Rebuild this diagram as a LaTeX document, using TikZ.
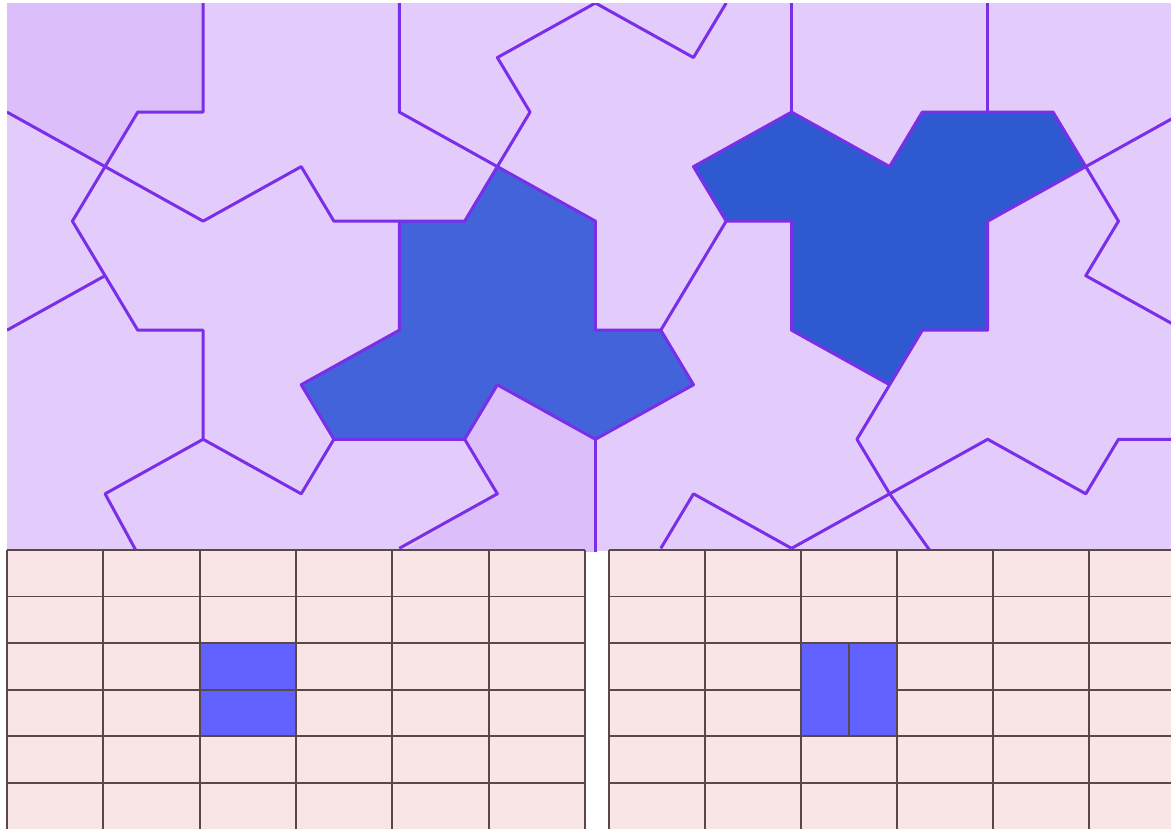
\documentclass[tikz,border=0pt]{standalone}
\usepackage{tikz}
\definecolor{hatlilac}{RGB}{227,203,251}
\definecolor{hatlilacdark}{RGB}{219,190,250}
\definecolor{hatline}{RGB}{122,46,232}
\definecolor{hatblue}{RGB}{66,99,217}
\definecolor{hatbluedark}{RGB}{47,89,209}
\definecolor{gridpink}{RGB}{249,229,230}
\definecolor{gridline}{RGB}{88,72,72}
\definecolor{gridblue}{RGB}{97,97,255}

\begin{document}
\begin{tikzpicture}[x=0.01cm,y=-0.01cm,
  tileedge/.style={hatline,line width=0.85pt,line join=round},
  gridedge/.style={gridline,line width=0.55pt}]
  \useasboundingbox (0,0) rectangle (1171,829);
  % Hat tiling (lattice units)
  \begin{scope}[xshift=0.07cm,yshift=-0.03cm,x=0.3267cm,y=-0.545cm]
    \clip (0,0) rectangle (35.65,10.05);
    \fill[hatlilac] (0,0) rectangle (35.65,10.05);
    % Reflected tiles
    \fill[hatlilacdark] (0,0) -- (6,0) -- (6,2) -- (4,2) -- (3,3) -- (0,2) -- cycle;
    \fill[hatlilacdark] (14,8) -- (15,9) -- (12,10.1) -- (18,10.1) -- (18,8) -- (15,7) -- cycle;
    % Marked hats
    \filldraw[tileedge,fill=hatblue] (15,3) -- (18,4) -- (18,6) -- (20,6) -- (21,7) -- (18,8) -- (15,7)
      -- (14,8) -- (10,8) -- (9,7) -- (12,6) -- (12,4) -- (14,4) -- cycle;
    \filldraw[tileedge,fill=hatbluedark] (21,3) -- (24,2) -- (27,3) -- (28,2) -- (32,2) -- (33,3) -- (30,4)
      -- (30,6) -- (28,6) -- (27,7) -- (24,6) -- (24,4) -- (22,4) -- cycle;
    % Other tile edges
    \draw[tileedge] (6,0) -- (6,2) -- (4,2) -- (3,3) -- (2,4) -- (3,5) -- (4,6) -- (6,6) -- (6,8) -- (9,9) -- (10,8);
    \draw[tileedge] (6,8) -- (3,9) -- (4,10.1);
    \draw[tileedge] (0,2) -- (3,3) -- (6,4) -- (9,3) -- (10,4) -- (12,4);
    \draw[tileedge] (0,6) -- (3,5);
    \draw[tileedge] (12,0) -- (12,2) -- (15,3);
    \draw[tileedge] (15,3) -- (16,2) -- (15,1) -- (18,0) -- (21,1) -- (22,0);
    \draw[tileedge] (22,4) -- (21,5) -- (20,6);
    \draw[tileedge] (24,0) -- (24,2);
    \draw[tileedge] (30,0) -- (30,2);
    \draw[tileedge] (33,3) -- (36,2);
    \draw[tileedge] (33,3) -- (34,4) -- (33,5) -- (36,6);
    \draw[tileedge] (18,8) -- (18,10.1);
    \draw[tileedge] (14,8) -- (15,9) -- (12,10);
    \draw[tileedge] (20,10) -- (21,9) -- (24,10);
    \draw[tileedge] (27,7) -- (26,8) -- (27,9) -- (28.3,10.1);
    \draw[tileedge] (24,10) -- (27,9) -- (30,8) -- (33,9) -- (34,8) -- (36,8);
  \end{scope}
  % Left grid
  \fill[gridpink] (7,550) rectangle (585,829);
  \fill[gridblue] (199.7,643) rectangle (296,736);
  \foreach \i in {0,...,6}
    \draw[gridedge] ({7+96.33*\i},550) -- ({7+96.33*\i},829);
  \foreach \j in {0,...,5}
    \draw[gridedge] (7,{550+46.5*\j}) -- (585,{550+46.5*\j});
  % Right grid
  \fill[gridpink] (609,550) rectangle (1171,829);
  \foreach \i in {0,...,5}
    \draw[gridedge] ({609+96*\i},550) -- ({609+96*\i},829);
  \foreach \j in {0,...,5}
    \draw[gridedge] (609,{550+46.5*\j}) -- (1171,{550+46.5*\j});
  \filldraw[gridedge,fill=gridblue] (801,643) rectangle (849,736);
  \filldraw[gridedge,fill=gridblue] (849,643) rectangle (897,736);
\end{tikzpicture}
\end{document}
